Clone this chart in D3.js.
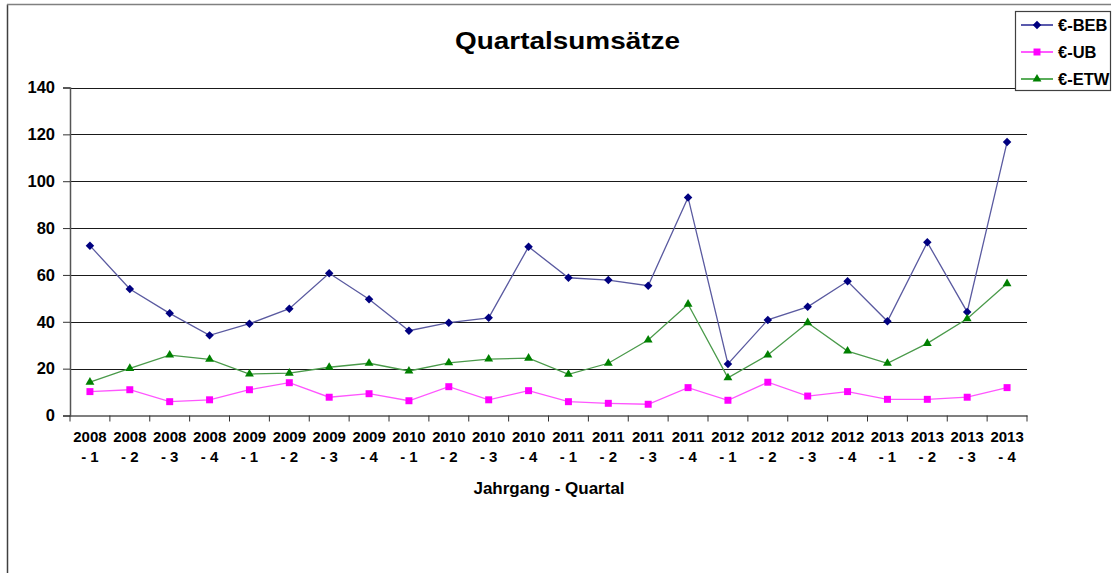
<!DOCTYPE html>
<html><head><meta charset="utf-8">
<script src="https://cdn.jsdelivr.net/npm/d3@7"></script>
<style>body{margin:0;background:#fff}svg{display:block}text{font-family:"Liberation Sans",Arial,sans-serif;font-weight:bold;fill:#000}</style>
</head><body><svg id="c" width="1113" height="573"></svg>
<script>
const years = ["2008","2008","2008","2008","2009","2009","2009","2009","2010","2010","2010","2010","2011","2011","2011","2011","2012","2012","2012","2012","2013","2013","2013","2013"];
const quarters = ["1","2","3","4","1","2","3","4","1","2","3","4","1","2","3","4","1","2","3","4","1","2","3","4"];
const categories = years.map((y,i)=>y+" - "+quarters[i]);
const beb = [72.5,54.0,43.6,34.2,39.2,45.6,60.7,49.6,36.2,39.6,41.7,72.0,58.8,57.8,55.4,93.1,22.0,40.8,46.4,57.3,40.2,73.9,44.2,116.7];
const ub  = [10.2,11.0,5.9,6.7,11.0,14.0,7.8,9.3,6.3,12.3,6.7,10.6,5.9,5.2,4.8,11.9,6.5,14.2,8.3,10.2,6.9,6.9,7.8,11.9];
const etw = [14.2,20.1,25.8,24.0,17.7,18.1,20.6,22.3,19.0,22.5,24.1,24.5,17.6,22.3,32.2,47.5,16.1,25.8,39.6,27.5,22.3,30.8,41.3,56.3];
const yTicks = [0,20,40,60,80,100,120,140];
const seriesNames = ["€-BEB","€-UB","€-ETW"];
const title = "Quartalsumsätze";
const xTitle = "Jahrgang - Quartal";

const svg = d3.select("#c");
// outer frame
svg.append("line").attr("x1",7.5).attr("x2",7.5).attr("y1",4.5).attr("y2",573).attr("stroke","#404040").attr("stroke-width",1.5);
svg.append("line").attr("x1",7).attr("x2",1111).attr("y1",4.5).attr("y2",4.5).attr("stroke","#808080").attr("stroke-width",1.5);

const L=70, R=1027, T=87.5, B=415.5;
const x = d3.scaleBand().domain(categories).range([L,R]);
const y = d3.scaleLinear().domain([0,140]).range([B,T]);

// gridlines
svg.append("g").selectAll("line").data(yTicks.filter(d=>d>0)).join("line")
  .attr("x1",L).attr("x2",R).attr("y1",d=>Math.round(y(d))+0.5).attr("y2",d=>Math.round(y(d))+0.5)
  .attr("stroke","#1a1a1a").attr("stroke-width",1.2);

// y axis
const ya = svg.append("g").attr("transform",`translate(${L},0)`)
  .call(d3.axisLeft(y).tickValues(yTicks).tickSize(7).tickPadding(8));
ya.select(".domain").attr("stroke","#555").attr("stroke-width",1.5);
ya.selectAll(".tick line").attr("stroke","#333");
ya.selectAll(".tick text").attr("font-size",16.5).attr("font-family","Liberation Sans, Arial, sans-serif").attr("font-weight","bold");

// x axis
const xa = svg.append("g").attr("transform",`translate(0,${B})`)
  .call(d3.axisBottom(x).tickSize(0).tickFormat(""));
xa.select(".domain").attr("stroke","#555").attr("stroke-width",1.5);
// boundary ticks
svg.append("g").selectAll("line").data(d3.range(categories.length+1)).join("line")
  .attr("x1",i=>L+i*x.step()).attr("x2",i=>L+i*x.step())
  .attr("y1",B).attr("y2",B+6).attr("stroke","#333");
// labels
const lab = svg.append("g").selectAll("text").data(categories).join("text")
  .attr("x",d=>x(d)+x.bandwidth()/2).attr("text-anchor","middle").attr("font-size",15);
lab.append("tspan").attr("x",d=>x(d)+x.bandwidth()/2).attr("y",442).text((d,i)=>years[i]);
lab.append("tspan").attr("x",d=>x(d)+x.bandwidth()/2).attr("y",462).text((d,i)=>"- "+quarters[i]);

svg.append("text").attr("x",549).attr("y",493.5).attr("text-anchor","middle").attr("font-size",17).text(xTitle);
svg.append("text").attr("x",567.5).attr("y",49).attr("text-anchor","middle").attr("font-size",24)
  .attr("textLength",225).attr("lengthAdjust","spacingAndGlyphs").text(title);

const cx = d => x(d)+x.bandwidth()/2;
const line = d3.line().x((d,i)=>cx(categories[i])).y(d=>y(d));
const series = [
  {name:seriesNames[0], data:beb, color:"#000080", line:"#5a5aa0", sym:d3.symbolDiamond2, size:46},
  {name:seriesNames[1], data:ub, color:"#ff00ff", line:"#ff55ff", sym:d3.symbolSquare2, size:62},
  {name:seriesNames[2], data:etw, color:"#008000", line:"#4a9a4a", sym:d3.symbolTriangle2, size:56}
];
series.forEach(s=>{
  svg.append("path").datum(s.data).attr("d",line).attr("fill","none").attr("stroke",s.line).attr("stroke-width",1.3);
  svg.append("g").selectAll("path").data(s.data).join("path")
    .attr("transform",(d,i)=>`translate(${cx(categories[i])},${y(d)})`)
    .attr("d",d3.symbol().type(s.sym).size(s.size)).attr("fill",s.color);
});

// legend
const lg = svg.append("g");
lg.append("rect").attr("x",1015.5).attr("y",11.5).attr("width",95).attr("height",79).attr("fill","#fff").attr("stroke","#404040").attr("stroke-width",1.2);
series.forEach((s,i)=>{
  const yy = 25+i*27;
  lg.append("line").attr("x1",1021).attr("x2",1053).attr("y1",yy).attr("y2",yy).attr("stroke",s.color).attr("stroke-width",1.3);
  lg.append("path").attr("transform",`translate(1037,${yy})`).attr("d",d3.symbol().type(s.sym).size(s.size)).attr("fill",s.color);
  lg.append("text").attr("x",1058).attr("y",yy+5.5).attr("font-size",16.5).text(s.name);
});
</script></body></html>
